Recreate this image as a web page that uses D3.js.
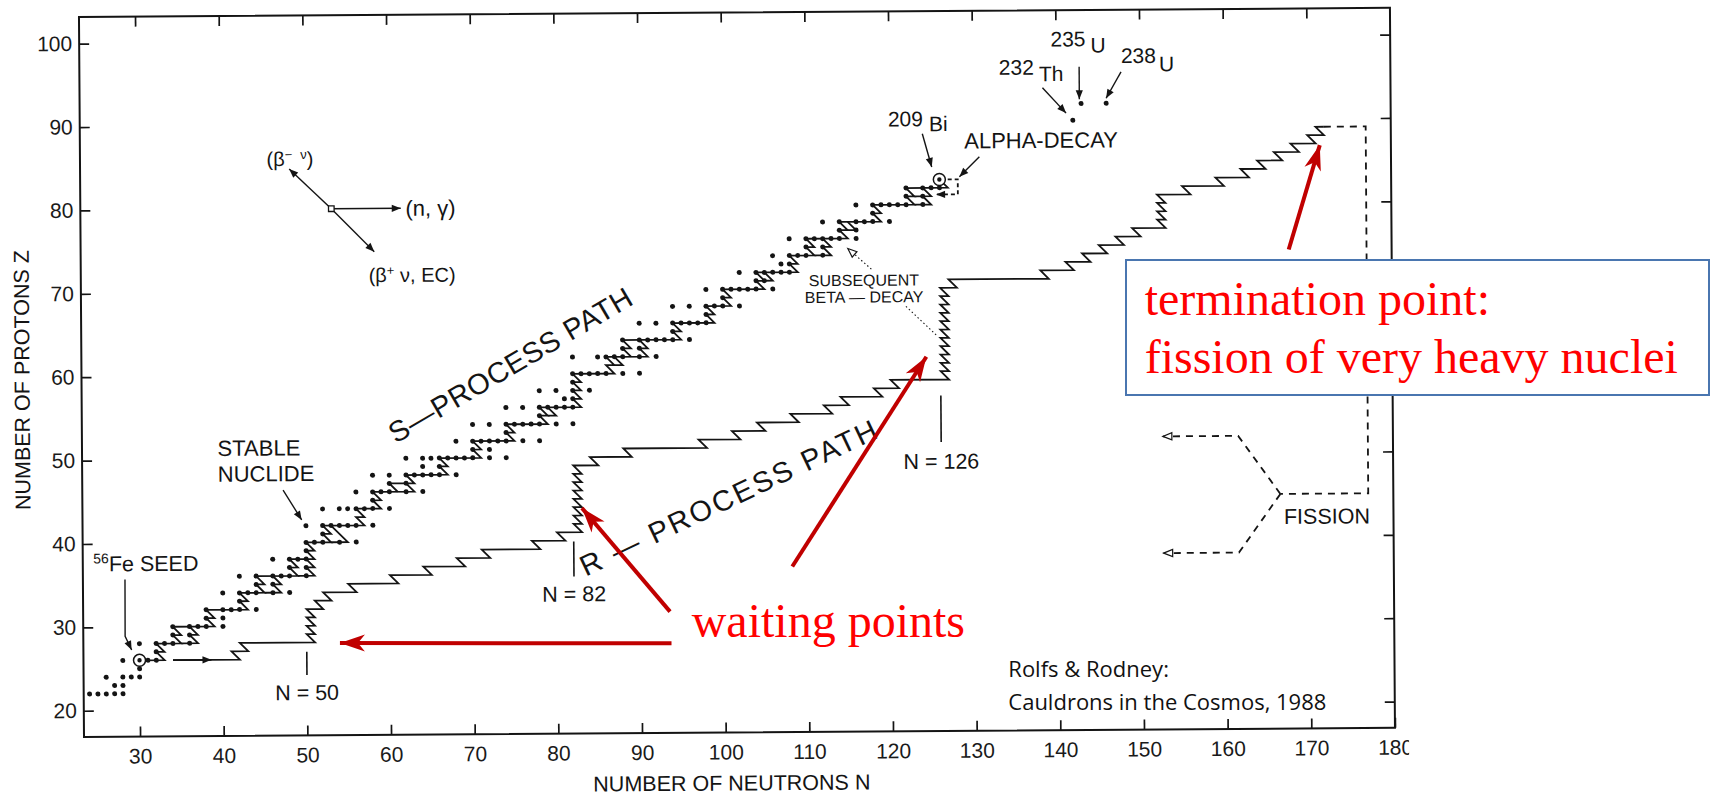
<!DOCTYPE html>
<html>
<head>
<meta charset="utf-8">
<script src="https://cdn.jsdelivr.net/npm/d3@7"></script>
<style>
  html, body { margin: 0; padding: 0; background: #fff; }
  svg { display: block; }
</style>
</head>
<body>
<svg id="chart" width="1710" height="797"></svg>
<script>
// ---- axes -------------------------------------------------------------
const nDomain = [23.3, 180];          // neutron number N along x
const zDomain = [16.85, 103.2];       // proton number Z along y
const nTicks = [30, 40, 50, 60, 70, 80, 90, 100, 110, 120, 130, 140, 150, 160, 170, 180];
const zTicks = [20, 30, 40, 50, 60, 70, 80, 90, 100];

// ---- stable nuclides: one row per element (Z) with its stable neutron numbers
const stableZ = [22, 23, 24, 25, 26, 27, 28, 29, 30, 31, 32, 33, 34, 35, 36, 37, 38, 39, 40, 41, 42, 44, 45, 46, 47, 48, 49, 50, 51, 52, 53, 54, 55, 56, 57, 58, 59, 60, 62, 63, 64, 65, 66, 67, 68, 69, 70, 71, 72, 73, 74, 75, 76, 77, 78, 79, 80, 81, 82, 83];
const stableN = [
  [24, 25, 26, 27, 28],            // Ti
  [27, 28],                        // V
  [26, 28, 29, 30],                // Cr
  [30],                            // Mn
  [28, 30, 31, 32],                // Fe
  [32],                            // Co
  [30, 32, 33, 34, 36],            // Ni
  [34, 36],                        // Cu
  [34, 36, 37, 38, 40],            // Zn
  [38, 40],                        // Ga
  [38, 40, 41, 42, 44],            // Ge
  [42],                            // As
  [40, 42, 43, 44, 46, 48],        // Se
  [44, 46],                        // Br
  [42, 44, 46, 47, 48, 50],        // Kr
  [48, 50],                        // Rb
  [46, 48, 49, 50],                // Sr
  [50],                            // Y
  [50, 51, 52, 54, 56],            // Zr
  [52],                            // Nb
  [50, 52, 53, 54, 55, 56, 58],    // Mo
  [52, 54, 55, 56, 57, 58, 60],    // Ru
  [58],                            // Rh
  [56, 58, 59, 60, 62, 64],        // Pd
  [60, 62],                        // Ag
  [58, 60, 62, 63, 64, 65, 66, 68],// Cd
  [64, 66],                        // In
  [62, 64, 65, 66, 67, 68, 69, 70, 72, 74], // Sn
  [70, 72],                        // Sb
  [68, 70, 71, 72, 73, 74, 76, 78],// Te
  [74],                            // I
  [70, 72, 74, 75, 76, 77, 78, 80, 82], // Xe
  [78],                            // Cs
  [74, 76, 78, 79, 80, 81, 82],    // Ba
  [81, 82],                        // La
  [78, 80, 82, 84],                // Ce
  [82],                            // Pr
  [82, 83, 84, 85, 86, 88, 90],    // Nd
  [82, 85, 86, 87, 88, 90, 92],    // Sm
  [88, 90],                        // Eu
  [88, 90, 91, 92, 93, 94, 96],    // Gd
  [94],                            // Tb
  [90, 92, 94, 95, 96, 97, 98],    // Dy
  [98],                            // Ho
  [94, 96, 98, 99, 100, 102],      // Er
  [100],                           // Tm
  [98, 100, 101, 102, 103, 104, 106], // Yb
  [104, 105],                      // Lu
  [102, 104, 105, 106, 107, 108],  // Hf
  [107, 108],                      // Ta
  [106, 108, 109, 110, 112],       // W
  [110, 112],                      // Re
  [108, 110, 111, 112, 113, 114, 116], // Os
  [114, 116],                      // Ir
  [112, 114, 116, 117, 118, 120],  // Pt
  [118],                           // Au
  [116, 118, 119, 120, 121, 122, 124], // Hg
  [122, 124],                      // Tl
  [122, 124, 125, 126],            // Pb
  [126]                            // Bi
];
// long-lived actinides above the s-process end point
const actinideN = [142, 143, 146];
const actinideZ = [90, 92, 92];
const actinideMass = ["232", "235", "238"];
const actinideSymbol = ["Th", "U", "U"];

// ---- s-process path: neutron captures (N+1) and beta decays (N-1, Z+1), as [N, Z]
const sPath = [
  [30,26],[33,26],[32,27],[33,27],[32,28],[35,28],[34,29],[35,29],[34,30],[39,30],[38,31],[39,31],
  [38,32],[43,32],[42,33],[43,33],[42,34],[45,34],[44,35],[45,35],[44,36],[49,36],[48,37],[49,37],
  [48,38],[51,38],[50,39],[51,39],[50,40],[53,40],[52,41],[53,41],[52,42],[57,42],[56,43],[57,43],
  [56,44],[59,44],[58,45],[59,45],[58,46],[63,46],[62,47],[63,47],[62,48],[67,48],[66,49],[67,49],
  [66,50],[71,50],[70,51],[71,51],[70,52],[75,52],[74,53],[75,53],[74,54],[79,54],[78,55],[79,55],
  [78,56],[83,56],[82,57],[83,57],[82,58],[83,58],[82,59],[83,59],[82,60],[87,60],[86,61],[87,61],
  [86,62],[91,62],[90,63],[91,63],[90,64],[95,64],[94,65],[95,65],[94,66],[99,66],[98,67],[99,67],
  [98,68],[101,68],[100,69],[101,69],[100,70],[105,70],[104,71],[106,71],[105,72],[109,72],[108,73],
  [109,73],[108,74],[111,74],[110,75],[111,75],[110,76],[115,76],[114,77],[115,77],[114,78],[119,78],
  [118,79],[119,79],[118,80],[123,80],[122,81],[123,81],[122,82],[127,82],[126,83]
];
// branchings of the s-process path at long-lived isotopes
const sBranches = [
  [[35,28],[37,28],[36,29],[37,29],[36,30]],
  [[45,34],[47,34],[46,35],[47,35],[46,36]],
  [[49,36],[51,36],[50,37],[51,37],[50,38]],
  [[53,40],[55,40],[54,41],[53,42]],
  [[61,46],[60,47],[62,47]],
  [[79,55],[80,55],[79,56]],
  [[87,61],[88,61],[87,62]],
  [[89,62],[88,63],[89,63],[88,64],[90,64]],
  [[105,71],[104,72],[105,72]],
  [[111,74],[113,74],[112,75],[113,75],[112,76]],
  [[115,77],[116,77],[115,78]],
  [[123,80],[125,80],[124,81]],
  [[123,81],[125,81],[124,82]]
];
// alpha-decay return from 209Bi (dashed)
const alphaLoop = [[127,83],[128.2,83],[128.2,81.2],[125.6,81.2]];

// ---- r-process path, with waiting points at N = 50, 82, 126
const rPath = [
  [34,26],[42,26],[41,27],[43,27],[42,28],[51,28],
  [50,29],[51,29],[50,30],[51,30],[50,31],[51,31],[50,32],
  [52,32],[51,33],[53,33],[52,34],[56,34],[55,35],[61,35],[60,36],[65,36],[64,37],[69,37],[68,38],
  [72,38],[71,39],[78,39],[77,40],[81,40],[80,41],[83,41],
  [82,42],[83,42],[82,43],[83,43],[82,44],[83,44],[82,45],[83,45],[82,46],[83,46],[82,47],[83,47],
  [82,48],[83,48],[82,49],
  [85,49],[84,50],[89,50],[88,51],[98,51],[97,52],[102,52],[101,53],[105,53],[104,54],[109,54],
  [108,55],[113,55],[112,56],[115,56],[114,57],[119,57],[118,58],[121,58],[120,59],[127,59],
  [126,60],[127,60],[126,61],[127,61],[126,62],[127,62],[126,63],[127,63],[126,64],[127,64],
  [126,65],[127,65],[126,66],[127,66],[126,67],[127,67],[126,68],[127,68],[126,69],[127,69],[126,70],
  [128,70],[127,71],[139,71],[138,72],[142,72],[141,73],[144,73],[143,74],[146,74],[145,75],
  [148,75],[147,76],[150,76],[149,77],[153,77],
  [152,78],[153,78],[152,79],[153,79],[152,80],[153,80],[152,81],
  [156,81],[155,82],[160,82],[159,83],[163,83],[162,84],[165,84],[164,85],[167,85],[166,86],
  [169,86],[168,87],[171,87],[170,88],[172,88],[171,89],[172,89]
];
const rStartArrow = [[34,26],[38.6,26]];
// fission of the heaviest nuclei (dashed) and its two fragment branches
const fissionLoop = [[172,89],[177,89],[177,45],[166.5,45]];
const fissionBranches = [
  [[166.5,45],[161.5,52],[152.5,52]],
  [[166.5,45],[161.5,38],[152.5,38]]
];
// closed neutron shells
const magicN = [50, 82, 126];
const magicMark = [[26.9, 24.1, 21.1], [39.9, 35.7, 32.7], [57.1, 51.5, 48.3]]; // line top, line bottom, label baseline (Z)

// ---- scales ------------------------------------------------------------
const W = 1710, H = 797;
const x = d3.scaleLinear().domain(nDomain).range([84, 1395]);
const y = d3.scaleLinear().domain(zDomain).range([737, 17]);
const tilt = -0.4;                       // the printed figure sits slightly rotated
const pivot = [x.range()[0], y.range()[0]];
const rad = tilt * Math.PI / 180;
function toScreen(n, z) {
  const dx = x(n) - pivot[0], dy = y(z) - pivot[1];
  return [pivot[0] + dx * Math.cos(rad) - dy * Math.sin(rad),
          pivot[1] + dx * Math.sin(rad) + dy * Math.cos(rad)];
}

const INK = "#141414";
const SANS = '"Liberation Sans", Arial, Helvetica, sans-serif';
const svg = d3.select("#chart");
const defs = svg.append("defs");

function marker(id, d, fill, stroke, len, wid) {
  defs.append("marker").attr("id", id)
    .attr("markerUnits", "userSpaceOnUse").attr("orient", "auto")
    .attr("viewBox", `${-len - 2} ${-wid - 2} ${len + 4} ${2 * wid + 4}`)
    .attr("refX", 0).attr("refY", 0)
    .attr("markerWidth", len + 4).attr("markerHeight", 2 * wid + 4)
    .append("path").attr("d", d).attr("fill", fill).attr("stroke", stroke).attr("stroke-width", 1.2);
}
marker("headBlack", "M0,0L-9,-3.6L-9,3.6Z", INK, "none", 9, 3.6);
marker("headOpen", "M0,0L-9,-3.6L-9,3.6Z", "#fff", INK, 9, 3.6);
marker("headRed", "M0,0L-25,-8.5L-18,0L-25,8.5Z", "#c00000", "none", 25, 8.5);

const line = d3.line().x(d => x(d[0])).y(d => y(d[1]));

const chart = svg.append("g")
  .attr("transform", `rotate(${tilt},${pivot[0]},${pivot[1]})`)
  .attr("font-family", SANS).attr("fill", INK);

// ---- frame and axes ------------------------------------------------------
chart.append("rect")
  .attr("x", x(nDomain[0])).attr("y", y(zDomain[1]))
  .attr("width", x(nDomain[1]) - x(nDomain[0])).attr("height", y(zDomain[0]) - y(zDomain[1]))
  .attr("fill", "none").attr("stroke", INK).attr("stroke-width", 2);

defs.append("clipPath").attr("id", "clipBottom")
  .append("rect").attr("x", -200).attr("y", -1000).attr("width", x(180) + 214).attr("height", 2000);

function styleAxis(g) {
  g.select(".domain").remove();
  g.attr("font-family", SANS).attr("font-size", 21).attr("color", INK);
  g.selectAll(".tick line").attr("stroke-width", 1.7);
  g.selectAll(".tick text").attr("fill", "#1a1a1a");
}
chart.append("g").attr("transform", `translate(0,${y.range()[0]})`)
  .attr("clip-path", "url(#clipBottom)")
  .call(d3.axisBottom(x).tickValues(nTicks).tickSize(-10).tickPadding(12).tickFormat(d3.format("d")))
  .call(styleAxis);
chart.append("g").attr("transform", `translate(0,${y.range()[1]})`)
  .call(d3.axisTop(x).tickValues(nTicks.slice(0, -1)).tickSize(-10).tickFormat(""))
  .call(styleAxis);
chart.append("g").attr("transform", `translate(${x.range()[0]},0)`)
  .call(d3.axisLeft(y).tickValues(zTicks).tickSize(-10).tickPadding(7).tickFormat(d3.format("d")))
  .call(styleAxis);
chart.append("g").attr("transform", `translate(${x.range()[1]},0)`)
  .call(d3.axisRight(y).tickValues(zTicks).tickSize(-10).tickFormat(""))
  .call(styleAxis);

chart.append("text")
  .attr("x", (x.range()[0] + x.range()[1]) / 2 - 8).attr("y", y.range()[0] + 58)
  .attr("text-anchor", "middle").attr("font-size", 21.5)
  .text("NUMBER OF NEUTRONS N");
chart.append("text")
  .attr("transform", `translate(${x.range()[0] - 52},${y(59.7)}) rotate(-90)`)
  .attr("text-anchor", "middle").attr("font-size", 21.5)
  .text("NUMBER OF PROTONS Z");

// ---- paths ---------------------------------------------------------------
const pathStyle = g => g.attr("fill", "none").attr("stroke", INK).attr("stroke-width", 1.8)
  .attr("stroke-linejoin", "miter").attr("stroke-miterlimit", 3);

chart.append("path").datum(sPath).attr("d", line).call(pathStyle);
chart.selectAll(".branch").data(sBranches).join("path").attr("class", "branch").attr("d", line).call(pathStyle);
chart.append("path").datum(rPath).attr("d", line).call(pathStyle);
chart.append("path").datum(rStartArrow).attr("d", line).call(pathStyle).attr("marker-end", "url(#headBlack)");

chart.append("path").datum(alphaLoop).attr("d", line).call(pathStyle)
  .attr("stroke-dasharray", "4,3").attr("marker-end", "url(#headBlack)");
chart.append("path").datum(fissionLoop).attr("d", line).call(pathStyle).attr("stroke-dasharray", "7,6");
chart.selectAll(".fission").data(fissionBranches).join("path").attr("class", "fission")
  .attr("d", line).call(pathStyle).attr("stroke-dasharray", "7,6").attr("marker-end", "url(#headOpen)");

// ---- stable nuclides -------------------------------------------------------
const nuclides = stableZ.flatMap((z, i) => stableN[i].map(n => [n, z]));
chart.selectAll(".nuc").data(nuclides).join("circle").attr("class", "nuc")
  .attr("cx", d => x(d[0])).attr("cy", d => y(d[1])).attr("r", 2.5).attr("fill", INK);
chart.selectAll(".act").data(actinideN).join("circle").attr("class", "act")
  .attr("cx", d => x(d)).attr("cy", (d, i) => y(actinideZ[i])).attr("r", 2.5).attr("fill", INK);

// seed 56Fe and end point 209Bi are ringed
[[30, 26], [126, 83]].forEach(d => {
  chart.append("circle").attr("cx", x(d[0])).attr("cy", y(d[1])).attr("r", 6)
    .attr("fill", "#fff").attr("stroke", INK).attr("stroke-width", 1.5);
  chart.append("circle").attr("cx", x(d[0])).attr("cy", y(d[1])).attr("r", 2.2).attr("fill", INK);
});

// ---- annotations -------------------------------------------------------------
function arrow(pts, head, dash) {
  const p = chart.append("path").datum(pts).attr("d", line)
    .attr("fill", "none").attr("stroke", INK).attr("stroke-width", 1.4)
    .attr("marker-end", `url(#${head})`);
  if (dash) p.attr("stroke-dasharray", dash).attr("stroke-width", 1.1);
  return p;
}
function label(n, z, txt, size, anchor) {
  return chart.append("text").attr("x", x(n)).attr("y", y(z))
    .attr("font-size", size).attr("text-anchor", anchor || "start").text(txt);
}

// reaction directions
const hub = [53.3, 80];
arrow([hub, [61.6, 80]], "headBlack");
arrow([hub, [48.3, 84.8]], "headBlack");
arrow([hub, [58.4, 74.8]], "headBlack");
chart.append("rect").attr("x", x(hub[0]) - 2.8).attr("y", y(hub[1]) - 2.8)
  .attr("width", 5.6).attr("height", 5.6).attr("fill", "#fff").attr("stroke", INK).attr("stroke-width", 1.3);
label(62.15, 80, "(n, γ)", 22).attr("dy", "0.35em");
const bm = label(48.4, 86.0, "(β", 20, "middle").attr("dy", "0.35em");
bm.append("tspan").attr("font-size", 13).attr("dy", -7).text("−");
bm.append("tspan").attr("font-size", 13).attr("dx", 8).text("ν");
bm.append("tspan").attr("dy", 7).text(")");
const bp = label(62.9, 72, "(β", 20, "middle").attr("dy", "0.35em");
bp.append("tspan").attr("font-size", 13).attr("dy", -7).text("+");
bp.append("tspan").attr("dy", 7).text(" ν, EC)");

// seed label
const seed = label(24.55, 36.7, "", 21.5);
seed.append("tspan").attr("font-size", 14).attr("dy", -8).text("56");
seed.append("tspan").attr("dy", 8).text("Fe SEED");
arrow([[28.33, 35.7], [28.3, 28.9], [29.07, 27.25]], "headBlack");

// stable nuclide label
label(39.5, 50.44, "STABLE", 22);
label(39.5, 47.36, "NUCLIDE", 22);
arrow([[47.3, 46.3], [49.5, 42.7]], "headBlack");

// closed shells
magicN.forEach((n, i) => {
  const m = magicMark[i];
  chart.append("line").attr("x1", x(n)).attr("x2", x(n)).attr("y1", y(m[0])).attr("y2", y(m[1]))
    .attr("stroke", INK).attr("stroke-width", 1.6);
  label(n, m[2], `N = ${n}`, 21.5, "middle");
});

// path names
chart.append("text").attr("font-size", 29).attr("text-anchor", "middle").attr("dy", "0.35em")
  .attr("textLength", 277).attr("lengthAdjust", "spacing")
  .attr("transform", `translate(${x(74.55)},${y(61.1)}) rotate(-30)`).text("S—PROCESS PATH");
chart.append("text").attr("font-size", 29).attr("text-anchor", "middle").attr("dy", "0.35em")
  .attr("textLength", 325).attr("lengthAdjust", "spacing")
  .attr("transform", `translate(${x(100.5)},${y(45.0)}) rotate(-25)`).text("R — PROCESS PATH");

// subsequent beta decay
label(116.9, 70.3, "SUBSEQUENT", 16, "middle");
label(116.9, 68.3, "BETA — DECAY", 16, "middle");
arrow([[117.8, 72.3], [115.0, 74.8]], "headOpen", "1.5,2.5");
chart.append("path").datum([[121.9, 67.8], [125.5, 64.35]]).attr("d", line)
  .attr("fill", "none").attr("stroke", INK).attr("stroke-width", 1.1).attr("stroke-dasharray", "1.5,2.5");

// 209Bi and alpha decay
const bi = label(119.9, 89.4, "209", 21);
bi.append("tspan").attr("dx", 6).attr("dy", 5).text("Bi");
arrow([[124.0, 88.5], [125.1, 84.5]], "headBlack");
label(129.0, 86.7, "ALPHA-DECAY", 22);
arrow([[130.8, 85.7], [128.4, 83.3]], "headBlack");

// actinides
const actLabel = [[133.2, 95.5, 5, 6.7], [139.4, 98.85, 5, 6.3], [147.8, 96.8, 3, 8.4]];
const actArrow = [
  [[138.4, 93.9], [141.2, 90.85]],
  [[142.8, 96.4], [142.8, 92.5]],
  [[147.8, 95.75], [146.0, 92.6]]
];
actinideMass.forEach((a, i) => {
  const L = actLabel[i];
  const t = label(L[0], L[1], a, 21);
  t.append("tspan").attr("dx", L[2]).attr("dy", L[3]).text(actinideSymbol[i]);
  arrow(actArrow[i], "headBlack");
});

label(166.9, 41.4, "FISSION", 21.5);

// ---- overlay notes ------------------------------------------------------------
const RED = "#c00000";
const note = svg.append("g");
const waitArrows = [
  [[93.6, 27.6], [53.97, 27.9]],
  [[93.45, 31.4], [83.0, 43.9]],
  [[108.1, 36.7], [124.3, 61.75]]
];
const termArrow = [[167.7, 74.3], [171.5, 86.8]];
[...waitArrows, termArrow].forEach(a => {
  const p0 = toScreen(...a[0]), p1 = toScreen(...a[1]);
  note.append("line").attr("x1", p0[0]).attr("y1", p0[1]).attr("x2", p1[0]).attr("y2", p1[1])
    .attr("stroke", RED).attr("stroke-width", 4).attr("marker-end", "url(#headRed)");
});

const SERIF = '"Liberation Serif", "Times New Roman", Times, serif';
note.append("text").attr("x", 691.7).attr("y", 636.7)
  .attr("font-family", SERIF).attr("font-size", 48).attr("fill", "#ff0000").text("waiting points");

note.append("rect").attr("x", 1126).attr("y", 260).attr("width", 583).attr("height", 135)
  .attr("fill", "#fff").attr("stroke", "#4a76b0").attr("stroke-width", 2);
note.append("text").attr("x", 1144.7).attr("y", 315)
  .attr("font-family", SERIF).attr("font-size", 48).attr("fill", "#ff0000").text("termination point:");
note.append("text").attr("x", 1144.7).attr("y", 373.3)
  .attr("font-family", SERIF).attr("font-size", 48).attr("fill", "#ff0000").text("fission of very heavy nuclei");

note.append("text").attr("x", 1008.3).attr("y", 677.3)
  .attr("font-family", '"Open Sans", "Noto Sans", sans-serif').attr("font-size", 22).attr("fill", "#111")
  .text("Rolfs & Rodney:");
note.append("text").attr("x", 1008.3).attr("y", 710)
  .attr("font-family", '"Open Sans", "Noto Sans", sans-serif').attr("font-size", 22).attr("fill", "#111")
  .text("Cauldrons in the Cosmos, 1988");
</script>
</body>
</html>
